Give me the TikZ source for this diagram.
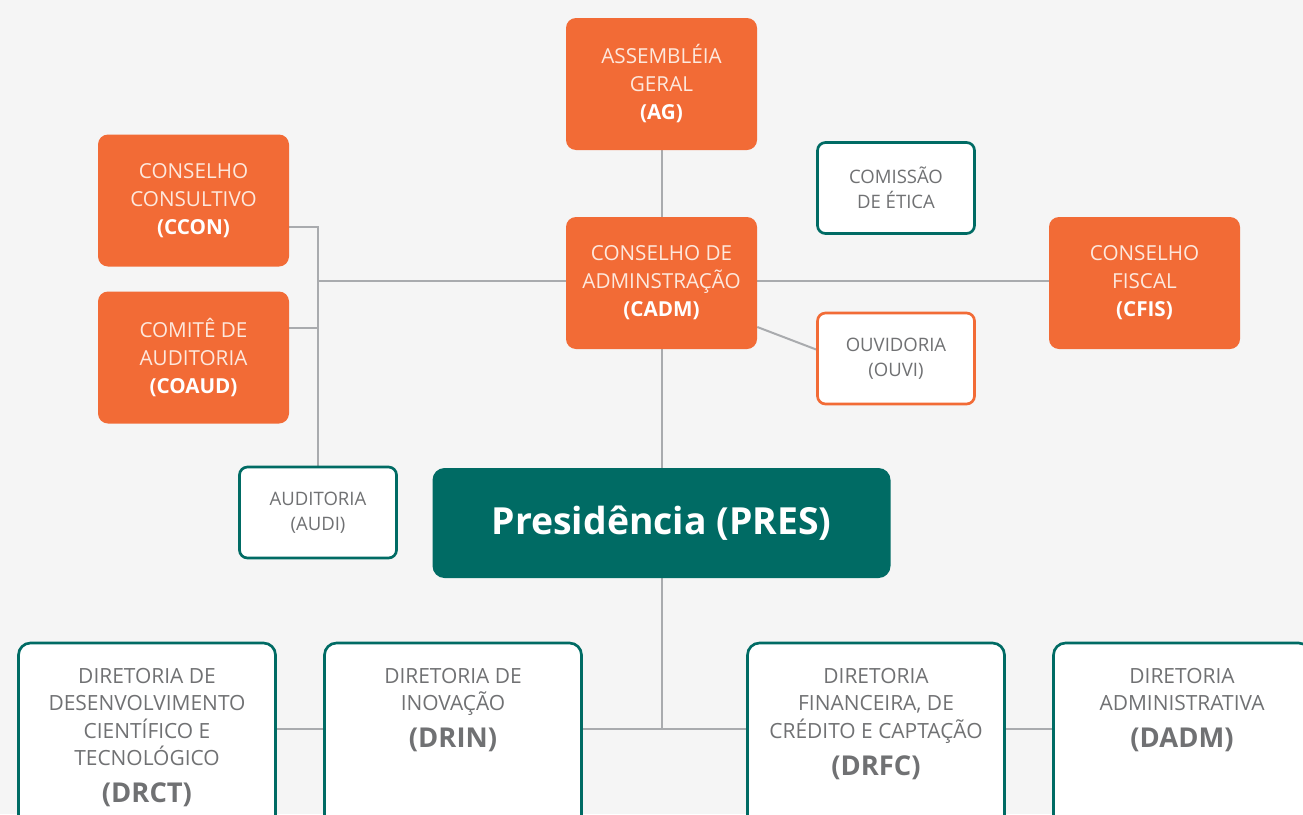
\documentclass[tikz,border=0pt]{standalone}
\usepackage{fontspec}
\setmainfont{Open Sans}
\usetikzlibrary{calc,backgrounds}
\definecolor{orgc}{HTML}{F26B36}
\definecolor{tealc}{HTML}{006B64}
\definecolor{bgc}{HTML}{F5F5F5}
\definecolor{linec}{HTML}{A9ABAE}
\definecolor{txtc}{HTML}{707173}
\definecolor{otxt}{HTML}{FDE8DD}
\def\u{0.75pt}
\tikzset{
  obox/.style={draw=none, fill=orgc, rounded corners=7.5pt, inner sep=0pt,
    minimum width=191*\u, minimum height=132*\u, text=otxt, align=center,
    font=\fontsize{15.5}{21}\selectfont},
  wbox/.style={draw=tealc, line width=2pt, fill=white, rounded corners=6pt, inner sep=0pt,
    minimum width=157*\u, minimum height=91*\u, text=txtc, align=center,
    font=\fontsize{13.9}{18.5}\selectfont},
  dbox/.style={draw=tealc, line width=2pt, fill=white, rounded corners=9pt, inner sep=0pt,
    minimum width=257*\u, minimum height=200*\u},
  dtext/.style={anchor=north, inner sep=0pt, text=txtc, align=center,
    font=\fontsize{15.7}{20.6}\selectfont},
  conn/.style={draw=linec, line width=1.5pt}
}
\newcommand{\bt}[1]{{\fontsize{20.5}{20.6}\selectfont\bfseries #1}}
\newcommand{\ot}[1]{{\color{white}\bfseries #1}}
\begin{document}
\begin{tikzpicture}[x=0.75pt,y=-0.75pt]
\useasboundingbox (0,0) rectangle (1303,814);
\clip (0,0) rectangle (1303,814);

% orange boxes
\node[obox] (ag) at (661.5,84) {ASSEMBLÉIA\\GERAL\\\ot{(AG)}};
\node[obox] (ccon) at (193.5,200.5) {CONSELHO\\CONSULTIVO\\\ot{(CCON)}};
\node[obox] (coaud) at (193.5,357.5) {COMITÊ DE\\AUDITORIA\\\ot{(COAUD)}};
\node[obox] (cadm) at (661.5,283) {CONSELHO DE\\ADMINSTRAÇÃO\\\ot{(CADM)}};
\node[obox] (cfis) at (1144.5,283) {CONSELHO\\FISCAL\\\ot{(CFIS)}};

% white small boxes
\node[wbox] (etica) at (896,188) {COMISSÃO\\DE ÉTICA};
\node[wbox, draw=orgc] (ouvi) at (896,358.5) {OUVIDORIA\\(OUVI)};
\node[wbox] (audi) at (318,512.5) {AUDITORIA\\(AUDI)};

% presidency
\node[fill=tealc, rounded corners=9pt, minimum width=458*\u, minimum height=110*\u,
  inner sep=0pt, text=white, font=\fontsize{28}{30}\selectfont\bfseries] (pres) at (661.5,523) {Presidência (PRES)};

% directorates
\node[dbox] (drct) at (147,743) {};
\node[dbox] (drin) at (453,743) {};
\node[dbox] (drfc) at (876,743) {};
\node[dbox] (dadm) at (1182,743) {};
\node[dtext] (drctt) at (147,668) {DIRETORIA DE\\DESENVOLVIMENTO\\CIENTÍFICO E\\TECNOLÓGICO\\[7pt]\bt{(DRCT)}};
\node[dtext] (drint) at (453,668) {DIRETORIA DE\\INOVAÇÃO\\[7pt]\bt{(DRIN)}};
\node[dtext] (drfct) at (876,668) {DIRETORIA\\FINANCEIRA, DE\\CRÉDITO E CAPTAÇÃO\\[7pt]\bt{(DRFC)}};
\node[dtext] (dadmt) at (1182,668) {DIRETORIA\\ADMINISTRATIVA\\[7pt]\bt{(DADM)}};

\coordinate (ccj) at (318,227);
\coordinate (coj) at (318,328);
\coordinate (hj) at (318,281);
\coordinate (bus) at (661.5,729);

\begin{pgfonlayer}{background}
\fill[bgc] (0,0) rectangle (1303,814);
\draw[conn] (ag) -- (cadm);
\draw[conn] (ccon.east |- ccj) -- (ccj) -- (audi.north);
\draw[conn] (coaud.east |- coj) -- (coj);
\draw[conn] (cadm.west |- hj) -- (hj);
\draw[conn] (cadm.east |- hj) -- (cfis.west |- hj);
\draw[conn] ($(cadm.east)+(0,44)$) -- ($(ouvi.west)+(0,-9)$);
\draw[conn] (cadm) -- (pres);
\draw[conn] (pres) -- (bus);
\draw[conn] (drct.east |- bus) -- (drin.west |- bus);
\draw[conn] (drin.east |- bus) -- (drfc.west |- bus);
\draw[conn] (drfc.east |- bus) -- (dadm.west |- bus);
\end{pgfonlayer}
\end{tikzpicture}
\end{document}
